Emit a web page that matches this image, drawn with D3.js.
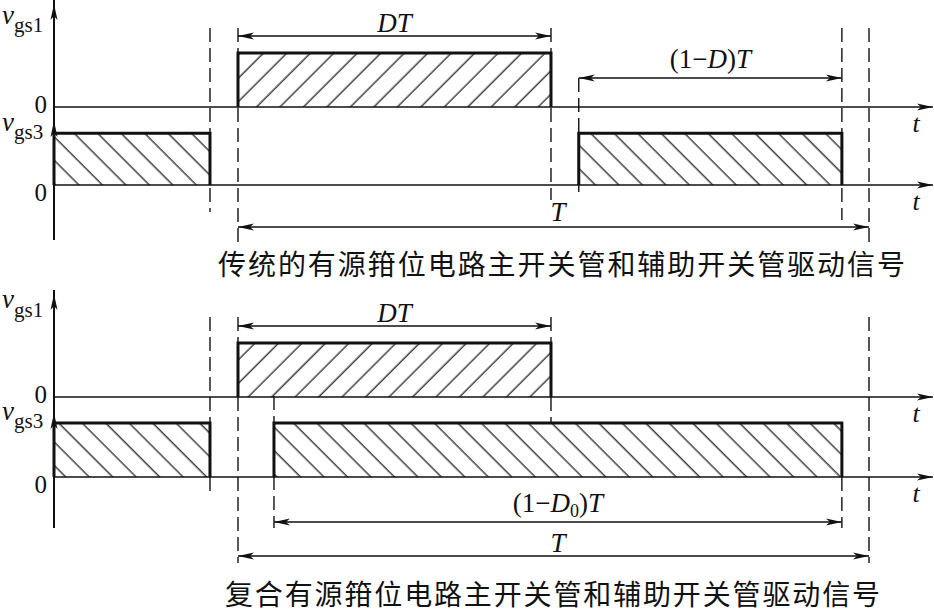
<!DOCTYPE html>
<html>
<head>
<meta charset="utf-8">
<script src="https://cdn.jsdelivr.net/npm/d3@7"></script>
<style>
  body { margin: 0; background: #fff; }
  text { font-family: "Liberation Serif", "DejaVu Serif", serif; fill: #111; }
  .cap { font-family: "Noto Sans CJK SC", sans-serif; }
</style>
</head>
<body>
<div id="chart"></div>
<script>
// time in units of the switching period T, 0 = turn-on of the main switch
const timeDomain = [-0.2916, 1.1014];
const D = 0.496;

const captions = ['传统的有源箝位电路主开关管和辅助开关管驱动信号',
                  '复合有源箝位电路主开关管和辅助开关管驱动信号'];

// pulses [start, end, level]
const vgs1Pulses = [
    [[0, D, 1]],
    [[0, D, 1]]
];
const vgs3Pulses = [
    [[-0.2916, -0.0444, 0.96], [0.540, 0.957, 0.96]],
    [[-0.2916, -0.0444, 1], [0.057, 0.957, 1]]
];

// dimension arrows [start, end, label]
const dims = [
    [[0, D, 'DT'], [0.540, 0.957, '(1-D)T'], [0, 1, 'T']],
    [[0, D, 'DT'], [0.057, 0.957, '(1-D0)T'], [0, 1, 'T']]
];

// dashed guide lines (time)
const guides = [
    [-0.0444, 0, D, 0.540, 0.957, 1],
    [-0.0444, 0, D, 0.057, 0.957, 1]
];

const W = 934, H = 614;
const svg = d3.select('#chart').append('svg')
    .attr('width', W).attr('height', H);

const x = d3.scaleLinear().domain(timeDomain).range([54, 933]);

// layout per panel
const layout = [
    { base1: 107, base2: 185, axisTop: 0, axisBot: 240, dimY: [36, 78, 227],
      guideY: [[28, 212], [28, 243], [28, 200], [78, 195], [28, 220], [28, 245]],
      lblY: [[24, 32], [131, 139]], capY: 275, capX: 218, capW: 687,
      dimLblY: [32, 68, 221] },
    { base1: 397, base2: 477, axisTop: 290, axisBot: 528, dimY: [326, 522, 556],
      guideY: [[317, 495], [317, 563], [317, 423], [396, 528], [477, 528], [317, 563]],
      lblY: [[308, 317], [420, 428]], capY: 605, capX: 225, capW: 655,
      dimLblY: [322, 512, 552] }
];

const defs = svg.append('defs');
const hatch = (id, angle) => {
    defs.append('pattern')
        .attr('id', id)
        .attr('patternUnits', 'userSpaceOnUse')
        .attr('width', 16.6).attr('height', 16.6)
        .attr('patternTransform', `rotate(${angle})`)
      .append('line')
        .attr('x1', 8).attr('y1', -2).attr('x2', 8).attr('y2', 20)
        .attr('stroke', '#111').attr('stroke-width', 1.2);
};
hatch('fwd', 45);
hatch('back', -45);

// arrow heads
const head = (id) => {
    defs.append('marker')
        .attr('id', id)
        .attr('viewBox', '0 -5 16 10')
        .attr('refX', 16).attr('refY', 0)
        .attr('markerUnits', 'userSpaceOnUse')
        .attr('markerWidth', 16).attr('markerHeight', 10)
        .attr('orient', 'auto-start-reverse')
      .append('path')
        .attr('d', 'M0,-3.5L16,0L0,3.5L4,0Z')
        .attr('fill', '#111');
};
head('arr');

const upHead = (g, cx, tipY) => {
    g.append('path')
        .attr('d', `M${cx},${tipY}L${cx - 3.5},${tipY + 16}L${cx},${tipY + 12}L${cx + 3.5},${tipY + 16}Z`)
        .attr('fill', '#111');
};

const italicText = (sel, parts) => {
    parts.forEach(p => {
        const ts = sel.append('tspan').text(p[0]);
        if (p[1]) ts.attr('font-style', 'italic');
        if (p[2]) ts.attr('font-size', p[2]).attr('dy', p[3]);
    });
};

layout.forEach((L, i) => {
    const g = svg.append('g');
    const y1 = d3.scaleLinear().domain([0, 1]).range([L.base1, L.base1 - 54]);
    const y3 = d3.scaleLinear().domain([0, 1]).range([L.base2, L.base2 - 54]);

    // dashed guides
    guides[i].forEach((t, k) => {
        g.append('line')
            .attr('x1', x(t)).attr('x2', x(t))
            .attr('y1', L.guideY[k][0]).attr('y2', L.guideY[k][1])
            .attr('stroke', '#111').attr('stroke-width', 1.4)
            .attr('stroke-dasharray', '14,6');
    });

    // pulses
    const drawPulses = (pulses, y, fill) => {
        pulses.forEach(p => {
            g.append('rect')
                .attr('x', x(p[0])).attr('y', y(p[2]))
                .attr('width', x(p[1]) - x(p[0]))
                .attr('height', y(0) - y(p[2]))
                .attr('fill', `url(#${fill})`);
            g.append('path')
                .attr('d', `M${x(p[0])},${y(0)}V${y(p[2])}H${x(p[1])}V${y(0)}`)
                .attr('fill', 'none')
                .attr('stroke', '#111').attr('stroke-width', 3);
        });
    };
    drawPulses(vgs1Pulses[i], y1, 'fwd');
    drawPulses(vgs3Pulses[i], y3, 'back');

    // time axes
    [L.base1, L.base2].forEach(b => {
        g.append('line')
            .attr('x1', x(timeDomain[0])).attr('x2', x(timeDomain[1]))
            .attr('y1', b).attr('y2', b)
            .attr('stroke', '#111').attr('stroke-width', 1.5)
            .attr('marker-end', 'url(#arr)');
        g.append('text')
            .attr('x', 916).attr('y', b + 25)
            .attr('text-anchor', 'middle')
            .attr('font-size', 26).attr('font-style', 'italic')
            .text('t');
    });

    // vertical axis
    g.append('line')
        .attr('x1', x(timeDomain[0])).attr('x2', x(timeDomain[0]))
        .attr('y1', L.axisTop).attr('y2', L.axisBot)
        .attr('stroke', '#111').attr('stroke-width', 2);
    upHead(g, x(timeDomain[0]), L.axisTop + 4);
    upHead(g, x(timeDomain[0]), L.base2 - 64);

    // signal labels
    ['gs1', 'gs3'].forEach((s, k) => {
        const t = g.append('text').attr('x', 2).attr('y', L.lblY[k][0]).attr('font-size', 27);
        t.append('tspan').attr('font-style', 'italic').text('v');
        t.append('tspan').attr('font-size', 21).attr('dy', L.lblY[k][1] - L.lblY[k][0]).text(s);
    });
    [[L.base1, 6], [L.base2, 16]].forEach(z => {
        g.append('text')
            .attr('x', 47).attr('y', z[0] + z[1])
            .attr('text-anchor', 'end').attr('font-size', 25)
            .text('0');
    });

    // dimension arrows
    dims[i].forEach((d, k) => {
        g.append('line')
            .attr('x1', x(d[0])).attr('x2', x(d[1]))
            .attr('y1', L.dimY[k]).attr('y2', L.dimY[k])
            .attr('stroke', '#111').attr('stroke-width', 1.3)
            .attr('marker-start', 'url(#arr)')
            .attr('marker-end', 'url(#arr)');
        const lbl = g.append('text')
            .attr('x', d[2] === 'T' ? x(1) - 311 : (x(d[0]) + x(d[1])) / 2)
            .attr('y', L.dimLblY[k])
            .attr('text-anchor', 'middle')
            .attr('font-size', 27);
        if (d[2] === 'DT') italicText(lbl, [['DT', true]]);
        else if (d[2] === 'T') italicText(lbl, [['T', true]]);
        else if (d[2] === '(1-D)T') italicText(lbl, [['(1\u2212', false], ['D', true], [')', false], ['T', true]]);
        else italicText(lbl, [['(1\u2212', false], ['D', true], ['0', false, 18, 5], [')', false, 27, -5], ['T', true]]);
    });

    // caption
    g.append('text')
        .attr('class', 'cap')
        .attr('x', L.capX).attr('y', L.capY)
        .attr('font-size', 28)
        .attr('textLength', L.capW)
        .attr('lengthAdjust', 'spacing')
        .text(captions[i]);
});
</script>
</body>
</html>
